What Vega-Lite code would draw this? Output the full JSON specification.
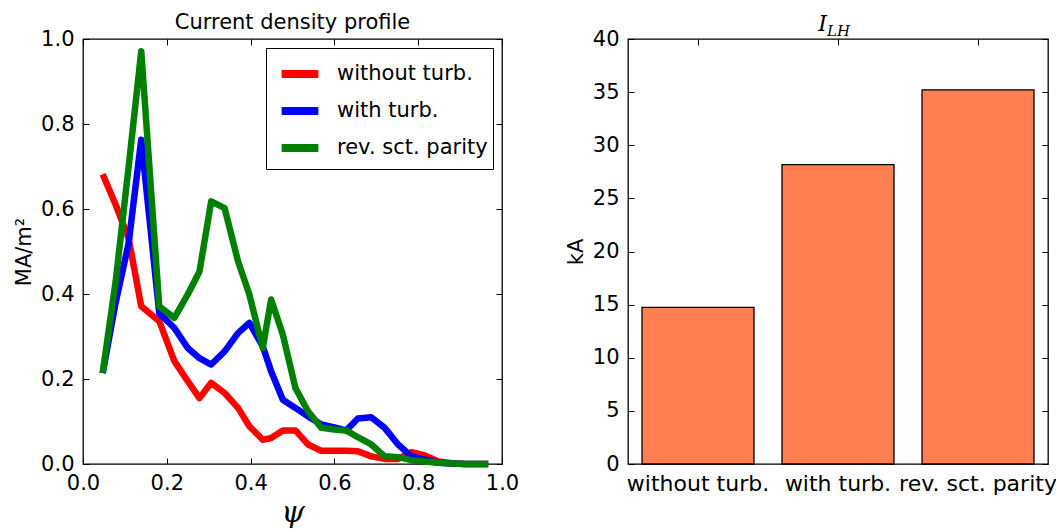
{
  "$schema": "https://vega.github.io/schema/vega-lite/v6.json",
  "background": "white",
  "padding": {"left": 12, "top": 11, "right": 5, "bottom": 5},
  "bounds": "flush",
  "spacing": 126,
  "resolve": {"scale": {"color": "independent"}, "legend": {"color": "independent"}},
  "datasets": {
    "profile": [
      {"psi": 0.047, "v": 0.682, "case": "without turb."},
      {"psi": 0.078, "v": 0.61, "case": "without turb."},
      {"psi": 0.109, "v": 0.53, "case": "without turb."},
      {"psi": 0.139, "v": 0.371, "case": "without turb."},
      {"psi": 0.182, "v": 0.336, "case": "without turb."},
      {"psi": 0.218, "v": 0.242, "case": "without turb."},
      {"psi": 0.25, "v": 0.195, "case": "without turb."},
      {"psi": 0.278, "v": 0.155, "case": "without turb."},
      {"psi": 0.306, "v": 0.191, "case": "without turb."},
      {"psi": 0.338, "v": 0.167, "case": "without turb."},
      {"psi": 0.37, "v": 0.132, "case": "without turb."},
      {"psi": 0.397, "v": 0.089, "case": "without turb."},
      {"psi": 0.429, "v": 0.057, "case": "without turb."},
      {"psi": 0.449, "v": 0.061, "case": "without turb."},
      {"psi": 0.477, "v": 0.079, "case": "without turb."},
      {"psi": 0.507, "v": 0.079, "case": "without turb."},
      {"psi": 0.537, "v": 0.046, "case": "without turb."},
      {"psi": 0.569, "v": 0.031, "case": "without turb."},
      {"psi": 0.6, "v": 0.031, "case": "without turb."},
      {"psi": 0.628, "v": 0.031, "case": "without turb."},
      {"psi": 0.656, "v": 0.03, "case": "without turb."},
      {"psi": 0.688, "v": 0.018, "case": "without turb."},
      {"psi": 0.72, "v": 0.012, "case": "without turb."},
      {"psi": 0.752, "v": 0.012, "case": "without turb."},
      {"psi": 0.784, "v": 0.028, "case": "without turb."},
      {"psi": 0.816, "v": 0.02, "case": "without turb."},
      {"psi": 0.848, "v": 0.006, "case": "without turb."},
      {"psi": 0.88, "v": 0.002, "case": "without turb."},
      {"psi": 0.912, "v": 0.0, "case": "without turb."},
      {"psi": 0.94, "v": 0.0, "case": "without turb."},
      {"psi": 0.967, "v": 0.0, "case": "without turb."},
      {"psi": 0.047, "v": 0.214, "case": "with turb."},
      {"psi": 0.078, "v": 0.38, "case": "with turb."},
      {"psi": 0.109, "v": 0.52, "case": "with turb."},
      {"psi": 0.139, "v": 0.763, "case": "with turb."},
      {"psi": 0.182, "v": 0.355, "case": "with turb."},
      {"psi": 0.218, "v": 0.32, "case": "with turb."},
      {"psi": 0.25, "v": 0.273, "case": "with turb."},
      {"psi": 0.278, "v": 0.249, "case": "with turb."},
      {"psi": 0.306, "v": 0.234, "case": "with turb."},
      {"psi": 0.338, "v": 0.265, "case": "with turb."},
      {"psi": 0.37, "v": 0.308, "case": "with turb."},
      {"psi": 0.397, "v": 0.332, "case": "with turb."},
      {"psi": 0.429, "v": 0.277, "case": "with turb."},
      {"psi": 0.449, "v": 0.218, "case": "with turb."},
      {"psi": 0.477, "v": 0.151, "case": "with turb."},
      {"psi": 0.507, "v": 0.132, "case": "with turb."},
      {"psi": 0.537, "v": 0.112, "case": "with turb."},
      {"psi": 0.569, "v": 0.093, "case": "with turb."},
      {"psi": 0.6, "v": 0.086, "case": "with turb."},
      {"psi": 0.628, "v": 0.079, "case": "with turb."},
      {"psi": 0.656, "v": 0.107, "case": "with turb."},
      {"psi": 0.688, "v": 0.11, "case": "with turb."},
      {"psi": 0.72, "v": 0.085, "case": "with turb."},
      {"psi": 0.752, "v": 0.046, "case": "with turb."},
      {"psi": 0.784, "v": 0.018, "case": "with turb."},
      {"psi": 0.816, "v": 0.01, "case": "with turb."},
      {"psi": 0.848, "v": 0.003, "case": "with turb."},
      {"psi": 0.88, "v": 0.001, "case": "with turb."},
      {"psi": 0.912, "v": 0.0, "case": "with turb."},
      {"psi": 0.94, "v": 0.0, "case": "with turb."},
      {"psi": 0.967, "v": 0.0, "case": "with turb."},
      {"psi": 0.047, "v": 0.214, "case": "rev. sct. parity"},
      {"psi": 0.078, "v": 0.43, "case": "rev. sct. parity"},
      {"psi": 0.109, "v": 0.7, "case": "rev. sct. parity"},
      {"psi": 0.139, "v": 0.971, "case": "rev. sct. parity"},
      {"psi": 0.182, "v": 0.371, "case": "rev. sct. parity"},
      {"psi": 0.218, "v": 0.344, "case": "rev. sct. parity"},
      {"psi": 0.25, "v": 0.399, "case": "rev. sct. parity"},
      {"psi": 0.278, "v": 0.453, "case": "rev. sct. parity"},
      {"psi": 0.306, "v": 0.618, "case": "rev. sct. parity"},
      {"psi": 0.338, "v": 0.602, "case": "rev. sct. parity"},
      {"psi": 0.37, "v": 0.477, "case": "rev. sct. parity"},
      {"psi": 0.397, "v": 0.399, "case": "rev. sct. parity"},
      {"psi": 0.429, "v": 0.273, "case": "rev. sct. parity"},
      {"psi": 0.449, "v": 0.387, "case": "rev. sct. parity"},
      {"psi": 0.477, "v": 0.304, "case": "rev. sct. parity"},
      {"psi": 0.507, "v": 0.179, "case": "rev. sct. parity"},
      {"psi": 0.537, "v": 0.124, "case": "rev. sct. parity"},
      {"psi": 0.569, "v": 0.085, "case": "rev. sct. parity"},
      {"psi": 0.6, "v": 0.081, "case": "rev. sct. parity"},
      {"psi": 0.628, "v": 0.079, "case": "rev. sct. parity"},
      {"psi": 0.656, "v": 0.063, "case": "rev. sct. parity"},
      {"psi": 0.688, "v": 0.046, "case": "rev. sct. parity"},
      {"psi": 0.72, "v": 0.018, "case": "rev. sct. parity"},
      {"psi": 0.752, "v": 0.016, "case": "rev. sct. parity"},
      {"psi": 0.784, "v": 0.009, "case": "rev. sct. parity"},
      {"psi": 0.816, "v": 0.006, "case": "rev. sct. parity"},
      {"psi": 0.848, "v": 0.003, "case": "rev. sct. parity"},
      {"psi": 0.88, "v": 0.001, "case": "rev. sct. parity"},
      {"psi": 0.912, "v": 0.0, "case": "rev. sct. parity"},
      {"psi": 0.94, "v": 0.0, "case": "rev. sct. parity"},
      {"psi": 0.967, "v": 0.0, "case": "rev. sct. parity"}
    ],
    "ilh": [
      {"case": "without turb.", "kA": 14.75},
      {"case": "with turb.", "kA": 28.18},
      {"case": "rev. sct. parity", "kA": 35.22}
    ]
  },
  "hconcat": [
    {
      "width": 419,
      "height": 425,
      "title": {"text": "Current density profile", "fontSize": 21, "font": "DejaVu Sans", "fontWeight": "normal", "color": "black", "offset": -5},
      "layer": [
        {
          "data": {"name": "profile"},
          "mark": {"type": "line", "strokeWidth": 6.5, "strokeJoin": "round", "strokeCap": "butt"},
          "encoding": {
            "x": {"field": "psi", "type": "quantitative", "scale": {"domain": [0, 1], "nice": false, "zero": false},
              "axis": {"orient": "bottom", "values": [0, 0.2, 0.4, 0.6, 0.8, 1.0], "format": ".1f", "title": "ψ", "titleFont": "DejaVu Serif", "titleFontStyle": "italic", "titleFontWeight": "normal", "titleFontSize": 30, "titlePadding": 4, "labelPadding": 14}},
            "y": {"field": "v", "type": "quantitative", "scale": {"domain": [0, 1], "nice": false, "zero": false},
              "axis": {"orient": "left", "values": [0, 0.2, 0.4, 0.6, 0.8, 1.0], "format": ".1f", "title": "MA/m²", "titlePadding": 6, "labelPadding": 15}},
            "color": {"field": "case", "type": "nominal",
              "scale": {"domain": ["without turb.", "with turb.", "rev. sct. parity"], "range": ["#ff0000", "#0000ff", "#008000"]},
              "legend": {"title": null, "orient": "top-right", "offset": 9, "padding": 5, "strokeColor": "black", "fillColor": "white", "cornerRadius": 0, "symbolType": "M-1.09,0H1.09", "symbolStrokeWidth": 8, "symbolSize": 1136, "symbolOffset": 8, "labelFontSize": 21, "labelFont": "DejaVu Sans", "labelColor": "black", "labelOffset": 16, "rowPadding": 0, "labelLimit": 300}}
          }
        },
        {
          "data": {"name": "profile"},
          "mark": {"type": "point", "opacity": 0},
          "encoding": {
            "x": {"field": "psi", "type": "quantitative", "scale": {"domain": [0, 1], "nice": false, "zero": false},
              "axis": {"orient": "top", "values": [0, 0.2, 0.4, 0.6, 0.8, 1.0], "labels": false, "title": null}},
            "y": {"field": "v", "type": "quantitative", "scale": {"domain": [0, 1], "nice": false, "zero": false},
              "axis": {"orient": "right", "values": [0, 0.2, 0.4, 0.6, 0.8, 1.0], "labels": false, "title": null}}
          }
        }
      ],
      "resolve": {"axis": {"x": "independent", "y": "independent"}}
    },
    {
      "width": 420,
      "height": 425,
      "title": {"text": "I", "anchor": "middle", "frame": "group", "dx": -15.5, "font": "DejaVu Serif", "fontStyle": "italic", "fontWeight": "normal", "fontSize": 22, "color": "black", "offset": -12},
      "layer": [
        {
          "data": {"name": "ilh"},
          "mark": {"type": "bar", "fill": "#ff7f50", "stroke": "black", "strokeWidth": 1.3},
          "encoding": {
            "x": {"field": "case", "type": "nominal", "sort": null,
              "scale": {"domain": ["without turb.", "with turb.", "rev. sct. parity"], "paddingInner": 0.2, "paddingOuter": 0.1},
              "axis": {"orient": "bottom", "labelAngle": 0, "title": null, "labelPadding": 15, "labelFontSize": 22}},
            "y": {"field": "kA", "type": "quantitative", "scale": {"domain": [0, 40], "nice": false},
              "axis": {"orient": "left", "values": [0, 5, 10, 15, 20, 25, 30, 35, 40], "title": "kA", "titlePadding": 6, "labelPadding": 15}}
          }
        },
        {
          "data": {"name": "ilh"},
          "mark": {"type": "point", "opacity": 0},
          "encoding": {
            "x": {"field": "case", "type": "nominal", "sort": null,
              "scale": {"domain": ["without turb.", "with turb.", "rev. sct. parity"], "paddingInner": 0.2, "paddingOuter": 0.1},
              "axis": {"orient": "top", "labels": false, "title": "LH", "titleFont": "DejaVu Serif", "titleFontStyle": "italic", "titleFontSize": 15, "titlePadding": 0}},
            "y": {"field": "kA", "type": "quantitative", "scale": {"domain": [0, 40], "nice": false},
              "axis": {"orient": "right", "values": [0, 5, 10, 15, 20, 25, 30, 35, 40], "labels": false, "title": null}}
          }
        }
      ],
      "resolve": {"axis": {"x": "independent", "y": "independent"}}
    }
  ],
  "config": {
    "view": {"stroke": "black", "strokeWidth": 1.3},
    "axis": {
      "domain": false, "grid": false,
      "tickSize": -6, "tickColor": "black", "tickWidth": 1,
      "labelFont": "DejaVu Sans", "labelFontSize": 21, "labelColor": "black",
      "labelFlush": false, "labelOverlap": false,
      "titleFont": "DejaVu Sans", "titleFontSize": 21, "titleFontWeight": "normal", "titleColor": "black"
    }
  }
}
